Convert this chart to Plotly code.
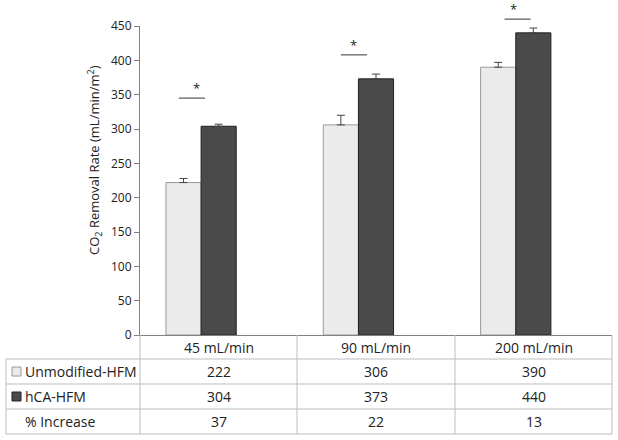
import plotly.graph_objects as go

# ---- data ----
categories = ["45 mL/min", "90 mL/min", "200 mL/min"]
unmodified = [222, 306, 390]
unmodified_err = [6, 14, 7]
hca = [304, 373, 440]
hca_err = [3, 7, 7]
pct_increase = [37, 22, 13]
sig_line_y = [345, 408, 460]
series_names = ["Unmodified-HFM", "hCA-HFM"]
row_label_increase = "% Increase"

# styling / layout
sig_offsets = [-0.17, -0.14, -0.10]

W, H = 618, 440
L, R, T, B = 140, 6, 26, 105
plot_w = W - L - R
plot_h = H - T - B
Y_RANGE = [0, 450]
X_RANGE = [-0.5, 2.5]

FONT = "Open Sans"
TXT = "#222222"
LIGHT = "#ebebeb"
LIGHT_LINE = "#9a9a9a"
DARK = "#4a4a4a"
DARK_LINE = "#222222"
GRID = "#bdbdbd"

def px(xpix):
    return (xpix - L) / plot_w

def py(ypix):
    return (H - B - ypix) / plot_h

def dx(xv):
    return (xv - X_RANGE[0]) / (X_RANGE[1] - X_RANGE[0])

def dy(yv):
    return (yv - Y_RANGE[0]) / (Y_RANGE[1] - Y_RANGE[0])

xs = list(range(len(categories)))
bw = 0.2233

fig = go.Figure()
fig.add_trace(go.Bar(
    x=xs, y=unmodified, width=bw, offset=-1.5 * bw, name=series_names[0],
    marker=dict(color=LIGHT, line=dict(color=LIGHT_LINE, width=1)),
    error_y=dict(type="data", array=unmodified_err, arrayminus=[0] * 3, symmetric=False,
                 color="#444444", thickness=1, width=4),
    showlegend=False,
))
fig.add_trace(go.Bar(
    x=xs, y=hca, width=bw, offset=-0.5 * bw, name=series_names[1],
    marker=dict(color=DARK, line=dict(color=DARK_LINE, width=1)),
    error_y=dict(type="data", array=hca_err, arrayminus=[0] * 3, symmetric=False,
                 color="#444444", thickness=1, width=4),
    showlegend=False,
))

shapes = []
annotations = []

# significance markers
for i, yv in enumerate(sig_line_y):
    c = xs[i] + sig_offsets[i]
    shapes.append(dict(type="line", xref="paper", yref="paper", x0=dx(c - 0.083), x1=dx(c + 0.083),
                       y0=dy(yv), y1=dy(yv), line=dict(color="#555555", width=1.2)))
    annotations.append(dict(xref="paper", yref="paper", x=dx(c), y=dy(yv), text="*", showarrow=False,
                            yanchor="middle", yshift=10, borderpad=0,
                            font=dict(family=FONT, size=13, color=TXT)))

# table geometry (pixels)
row_edges = [335, 359, 384, 409, 434]
col_edges = [L, 297, 455, W - R]
left_x = 6

line_style = dict(color=GRID, width=1)
for yy in row_edges[1:]:
    shapes.append(dict(type="line", xref="paper", yref="paper", x0=px(left_x), x1=px(W - R),
                       y0=py(yy), y1=py(yy), line=line_style))
for xx in col_edges:
    shapes.append(dict(type="line", xref="paper", yref="paper", x0=px(xx), x1=px(xx),
                       y0=py(row_edges[0]), y1=py(row_edges[-1]), line=line_style))
shapes.append(dict(type="line", xref="paper", yref="paper", x0=px(left_x), x1=px(left_x),
                   y0=py(row_edges[1]), y1=py(row_edges[-1]), line=line_style))

rows = [categories, [str(v) for v in unmodified], [str(v) for v in hca], [str(v) for v in pct_increase]]
for r, vals in enumerate(rows):
    yc = (row_edges[r] + row_edges[r + 1]) / 2
    for c, v in enumerate(vals):
        xc = (col_edges[c] + col_edges[c + 1]) / 2
        annotations.append(dict(xref="paper", yref="paper", x=px(xc), y=py(yc), text=v,
                                showarrow=False, xanchor="center", yanchor="middle",
                                font=dict(family=FONT, size=14, color=TXT)))

labels = [(series_names[0], LIGHT, LIGHT_LINE), (series_names[1], DARK, DARK_LINE), (row_label_increase, None, None)]
for k, (lab, fill, edge) in enumerate(labels):
    r = k + 1
    yc = (row_edges[r] + row_edges[r + 1]) / 2
    if fill:
        shapes.append(dict(type="rect", xref="paper", yref="paper", x0=px(12), x1=px(21),
                           y0=py(yc + 4.5), y1=py(yc - 4.5),
                           fillcolor=fill, line=dict(color=edge, width=1)))
    annotations.append(dict(xref="paper", yref="paper", x=px(23), y=py(yc), text=lab,
                            showarrow=False, xanchor="left", yanchor="middle",
                            font=dict(family=FONT, size=14, color=TXT)))

annotations.append(dict(xref="paper", yref="paper", x=px(94), y=py(160),
                        text="CO<sub>2</sub> Removal Rate (mL/min/m<sup>2</sup>)",
                        textangle=-90, showarrow=False, xanchor="center", yanchor="middle",
                        font=dict(family=FONT, size=13, color=TXT)))

fig.update_layout(
    width=W, height=H,
    margin=dict(l=L, r=R, t=T, b=B, pad=0),
    paper_bgcolor="white", plot_bgcolor="white",
    barmode="overlay",
    shapes=shapes, annotations=annotations,
    font=dict(family=FONT, color=TXT),
    xaxis=dict(range=X_RANGE, showticklabels=False, ticks="", showgrid=False,
               zeroline=False, showline=True, linecolor="#808080", linewidth=1.2, fixedrange=True),
    yaxis=dict(range=Y_RANGE, dtick=50, ticks="outside", ticklen=5, tickcolor="#808080",
               showgrid=False, zeroline=False, showline=True, linecolor="#808080", linewidth=1.2,
               tickfont=dict(family=FONT, size=12, color=TXT), fixedrange=True),
)

fig.write_html("out.html", config={"displayModeBar": False},
               post_script="document.body.style.margin='0px';document.body.style.overflow='hidden';")
